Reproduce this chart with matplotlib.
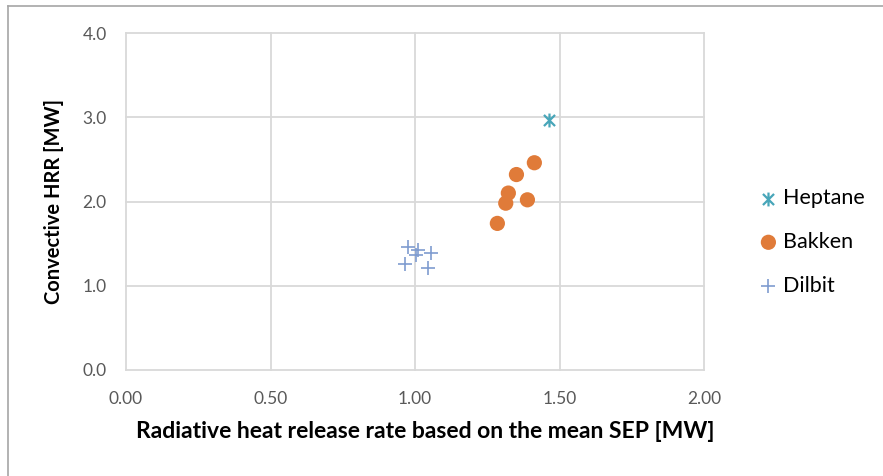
import matplotlib.pyplot as plt
from matplotlib.path import Path
from matplotlib.lines import Line2D

plt.rcParams['font.family'] = ['Lato', 'DejaVu Sans']

heptane_x = [1.465]
heptane_y = [2.97]

bakken_x = [1.413, 1.351, 1.323, 1.314, 1.389, 1.285]
bakken_y = [2.46, 2.32, 2.10, 1.98, 2.02, 1.74]

dilbit_x = [0.976, 1.010, 1.055, 1.003, 0.966, 1.045]
dilbit_y = [1.46, 1.43, 1.39, 1.36, 1.26, 1.21]

x_ticks = [0.0, 0.5, 1.0, 1.5, 2.0]
y_ticks = [0.0, 1.0, 2.0, 3.0, 4.0]

# excel style star: an x with a vertical bar through it
star = Path([(-1, -1), (1, 1), (-1, 1), (1, -1), (0, -1.25), (0, 1.25)],
            [Path.MOVETO, Path.LINETO, Path.MOVETO, Path.LINETO, Path.MOVETO, Path.LINETO])

fig = plt.figure(figsize=(8.83, 4.76), dpi=100)
ax = fig.add_axes([126/883, 1-370/476, 578/883, 337/476])

# chart area border (only top and left are inside the image)
fig.add_artist(Line2D([8/883, 8/883], [0, 1-6/476], color='#a6a6a6', lw=1.2))
fig.add_artist(Line2D([8/883, 1], [1-6/476, 1-6/476], color='#a6a6a6', lw=1.2))

ax.scatter(heptane_x, heptane_y, marker=star, s=100, color='#48a6b9', linewidths=1.6,
           label='Heptane', zorder=3)
ax.scatter(bakken_x, bakken_y, marker='o', s=120, color='#e07b39', edgecolors='none',
           label='Bakken', zorder=3)
ax.scatter(dilbit_x, dilbit_y, marker='+', s=110, color='#7f9cd0', linewidths=1.2,
           label='Dilbit', zorder=3)

ax.set_xlim(0, 2)
ax.set_ylim(0, 4)
ax.set_xticks(x_ticks)
ax.set_yticks(y_ticks)
ax.set_xticklabels(['%.2f' % t for t in x_ticks])
ax.set_yticklabels(['%.1f' % t for t in y_ticks])
ax.tick_params(length=0, labelsize=12.5, labelcolor='#595959')
ax.tick_params(axis='x', pad=15)
ax.tick_params(axis='y', pad=14)

for s in ax.spines.values():
    s.set_visible(False)
ax.grid(True, color='#d9d9d9', lw=1.3)
ax.set_axisbelow(True)
for gl in ax.get_xgridlines() + ax.get_ygridlines():
    gl.set_clip_on(False)

ax.set_xlabel('Radiative heat release rate based on the mean SEP [MW]',
              fontsize=16.5, fontweight='bold', labelpad=10)
ax.xaxis.label.set_x(0.517)
ax.set_ylabel('Convective HRR [MW]', fontsize=14.5, fontweight='bold', labelpad=13)

leg = ax.legend(loc='center left', bbox_to_anchor=(1.063, 0.38), frameon=False,
                fontsize=15.5, labelspacing=1.1, handletextpad=0.3, handlelength=0.8,
                borderpad=0.4)

fig.savefig('out.png', dpi=100)
